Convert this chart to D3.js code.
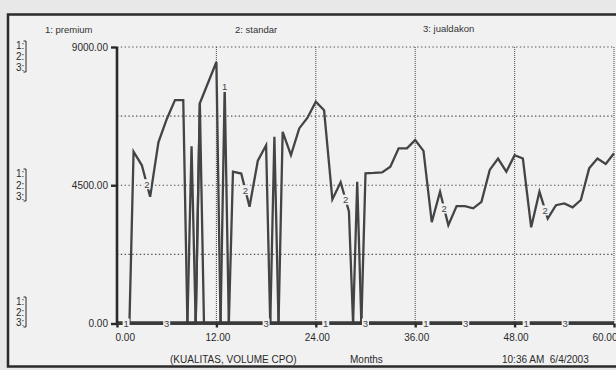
<!DOCTYPE html>
<html>
<head>
<meta charset="utf-8">
<script src="https://cdn.jsdelivr.net/npm/d3@7"></script>
<style>
  html, body { margin: 0; padding: 0; background: #e8e8e8; }
  svg { display: block; font-family: "Liberation Sans", Arial, sans-serif; }
</style>
</head>
<body>
<svg id="chart" width="616" height="370"></svg>
<script>
// series names as in the legend
const seriesNames = ['premium', 'standar', 'jualdakon'];

// 1: premium  (months, volume)
const premiumT = [0, 9.5, 10, 10.5, 12.5, 13, 13.5, 60];
const premiumV = [0, 0, 7170, 0, 0, 7700, 0, 0];

// 2: standar
const standarT = [0, 1.5, 2, 3, 4, 5, 6, 7, 8, 8.5, 9.5, 10, 12, 12.5, 13.5, 14, 15, 16, 17, 18, 18.5, 19.5, 20,
  21, 22, 23, 24, 25, 26, 27, 28, 28.5, 29.5, 30, 31, 32, 33, 34, 35, 36, 37, 38, 39, 40, 41, 42, 43, 44,
  45, 46, 47, 48, 49, 50, 51, 52, 53, 54, 55, 56, 57, 58, 59, 60];
const standarV = [0, 0, 5590, 5150, 4124, 5900, 6650, 7270, 7270, 0, 0, 7170, 8510, 0, 0, 4940, 4880, 3800, 5300, 5800, 0, 0, 6240,
  5480, 6350, 6700, 7220, 6940, 4040, 4600, 3650, 0, 0, 4890, 4900, 4920, 5100, 5700, 5700, 5970, 5620, 3300, 4290, 3200, 3820, 3820, 3750, 3960,
  5000, 5370, 4940, 5480, 5370, 3130, 4290, 3420, 3850, 3910, 3780, 4020, 5050, 5370, 5190, 5540];

// 3: jualdakon
const jualdakonT = [0, 8.5, 9, 9.5, 18.5, 19, 19.5, 28.5, 29, 29.5, 60];
const jualdakonV = [0, 0, 5770, 0, 0, 6075, 0, 0, 4610, 0, 0];

// where the little series numbers sit along the time axis
const premiumLabelT = [1.1, 13, 25.2, 37.3, 49.4];
const standarLabelT = [3.6, 15.5, 27.6, 39.5, 51.7];
const jualdakonLabelT = [6.0, 18.0, 30.0, 42.1, 54.1];

const xTicks = [0, 12, 24, 36, 48, 60];
const yTicks = [0, 4500, 9000];
const yGrid = [2250, 4500, 6750, 9000];

const svg = d3.select('#chart');
const W = 616, H = 370;
const plotL = 117, plotR = 614, plotT = 47, plotB = 323.5;
const ink = '#2a2a2a', lineCol = '#444', bg = '#f1f1f1';

const x = d3.scaleLinear().domain([0, 60]).range([plotL, plotR]);
const y = d3.scaleLinear().domain([0, 9000]).range([plotB, plotT]);

// page and frame
svg.append('rect').attr('width', W).attr('height', H).attr('fill', '#e8e8e8');
svg.append('rect')
  .attr('x', 8).attr('y', 14.5).attr('width', 620).attr('height', 352)
  .attr('fill', bg).attr('stroke', ink).attr('stroke-width', 2.5);

// dotted grid
svg.append('g').selectAll('line').data(yGrid).join('line')
  .attr('x1', plotL).attr('x2', plotR)
  .attr('y1', d => y(d)).attr('y2', d => y(d))
  .attr('stroke', '#555').attr('stroke-width', 1.2).attr('stroke-dasharray', '1.4,2.4');
svg.append('g').selectAll('line').data(xTicks.slice(1)).join('line')
  .attr('x1', d => x(d)).attr('x2', d => x(d))
  .attr('y1', plotT).attr('y2', plotB)
  .attr('stroke', '#555').attr('stroke-width', 1.1).attr('stroke-dasharray', '1,1');

// series
const line = d3.line().x(d => x(d[0])).y(d => y(d[1]));
const series = [
  { name: seriesNames[0], pts: d3.zip(premiumT, premiumV), labels: premiumLabelT, num: '1' },
  { name: seriesNames[1], pts: d3.zip(standarT, standarV), labels: standarLabelT, num: '2' },
  { name: seriesNames[2], pts: d3.zip(jualdakonT, jualdakonV), labels: jualdakonLabelT, num: '3' }
];
svg.append('g').selectAll('path').data(series).join('path')
  .attr('d', d => line(d.pts))
  .attr('fill', 'none').attr('stroke', lineCol).attr('stroke-width', 2.3)
  .attr('stroke-linejoin', 'miter').attr('stroke-miterlimit', 4);

// axes
const xAxis = svg.append('g').attr('transform', `translate(0,${plotB})`)
  .call(d3.axisBottom(x).tickValues(xTicks).tickFormat(d3.format('.2f')).tickSize(4).tickPadding(6));
const yAxis = svg.append('g').attr('transform', `translate(${plotL},0)`)
  .call(d3.axisLeft(y).tickValues(yTicks).tickFormat(d3.format('.2f')).tickSize(6).tickPadding(3));
[xAxis, yAxis].forEach(a => {
  a.select('.domain').attr('stroke', ink).attr('stroke-width', 2.6);
  a.selectAll('.tick line').attr('stroke', ink).attr('stroke-width', 2.4);
  a.selectAll('.tick text').attr('fill', ink).attr('font-size', 10)
    .attr('font-family', '"Liberation Sans", Arial, sans-serif');
});
// the zero line in the original is a heavy band where all three series overlap
xAxis.select('.domain').attr('d', `M${plotL},-0.5H${plotR}`).attr('stroke-width', 3.6).attr('stroke', '#3a3a3a');
yAxis.select('.domain').attr('d', `M0,${plotT}V${plotB}`);
xAxis.selectAll('.tick text').attr('text-anchor', (d, i) => i === 0 ? 'start' : (i === xTicks.length - 1 ? 'end' : 'middle'))
  .attr('dx', (d, i) => i === 0 ? -2 : (i === xTicks.length - 1 ? 3 : 1));

// series number tags along the lines
function valueAt(pts, t) {
  for (let i = 1; i < pts.length; i++) {
    if (t <= pts[i][0]) {
      const [t0, v0] = pts[i - 1], [t1, v1] = pts[i];
      return v0 + (v1 - v0) * (t - t0) / (t1 - t0);
    }
  }
  return pts[pts.length - 1][1];
}
series.forEach(s => {
  const g = svg.append('g');
  s.labels.forEach(t => {
    const cx = x(t), cy = y(valueAt(s.pts, t));
    g.append('rect').attr('x', cx - 3.5).attr('y', cy - 5).attr('width', 7).attr('height', 10).attr('fill', bg);
    g.append('text').attr('x', cx).attr('y', cy + 3.5).attr('text-anchor', 'middle')
      .attr('font-size', 9.5).attr('fill', '#444').text(s.num);
  });
});

// scale keys on the left: "1: 2: 3:" bracketed at each labelled tick
const keyRows = [
  { v: 9000, ys: [49, 60, 71] },
  { v: 4500, ys: [177, 188.5, 200] },
  { v: 0, ys: [305, 315.5, 326] }
];
keyRows.forEach(k => {
  const g = svg.append('g');
  g.selectAll('text').data(['1:', '2:', '3:']).join('text')
    .attr('x', 16).attr('y', (d, i) => k.ys[i])
    .attr('font-size', 10).attr('fill', ink).text(d => d);
  g.append('path')
    .attr('d', `M23.5,${k.ys[0] - 8}H26V${k.ys[2] + 1}H23.5`)
    .attr('fill', 'none').attr('stroke', ink).attr('stroke-width', 1);
});

// legend titles
const legendX = [45, 235, 423];
svg.append('g').selectAll('text').data(seriesNames).join('text')
  .attr('x', (d, i) => legendX[i]).attr('y', (d, i) => 33 - i * 0.5)
  .attr('font-size', 9.5).attr('fill', '#333')
  .text((d, i) => `${i + 1}: ${d}`);

// footer texts
const footer = [
  { x: 170, t: '(KUALITAS, VOLUME CPO)' },
  { x: 350, t: 'Months' },
  { x: 502, t: '10:36 AM  6/4/2003' }
];
svg.append('g').selectAll('text').data(footer).join('text')
  .attr('x', d => d.x).attr('y', 363).attr('font-size', 10).attr('fill', ink)
  .attr('xml:space', 'preserve').style('white-space', 'pre')
  .text(d => d.t);
</script>
</body>
</html>
